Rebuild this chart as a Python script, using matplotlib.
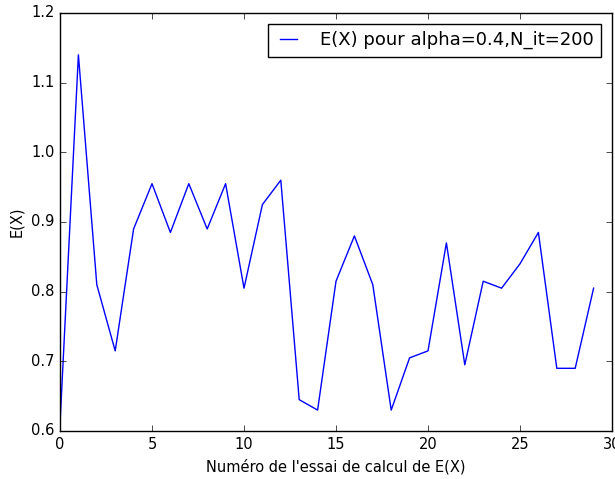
import matplotlib
matplotlib.use('Agg')
import matplotlib.pyplot as plt

# mean estimates for each trial
essais = list(range(30))
esperances = [0.61, 1.14, 0.81, 0.715, 0.89, 0.955, 0.885, 0.955, 0.89, 0.955,
              0.805, 0.925, 0.96, 0.645, 0.63, 0.815, 0.88, 0.81, 0.63, 0.705,
              0.715, 0.87, 0.695, 0.815, 0.805, 0.84, 0.885, 0.69, 0.69, 0.805]
label = "E(X) pour alpha=0.4,N_it=200"

plt.style.use('classic')
plt.rcParams['font.size'] = 10.5

fig = plt.figure(figsize=(6.15, 4.79), dpi=100)
ax = fig.add_axes([60/615, 48/479, 552/615, 418/479])
ax.plot(essais, esperances, color='b', label=label)
ax.set_xlim(0, 30)
ax.set_ylim(0.6, 1.2)
ax.set_xlabel("Numéro de l'essai de calcul de E(X)", fontsize=10.5)
ax.set_ylabel("E(X)", fontsize=10.5)
ax.tick_params(labelsize=10.5)
ax.legend(loc='upper right', fontsize=13, handlelength=1.5, handletextpad=1.0,
          borderaxespad=0.6)
fig.savefig("out.png", dpi=100)
